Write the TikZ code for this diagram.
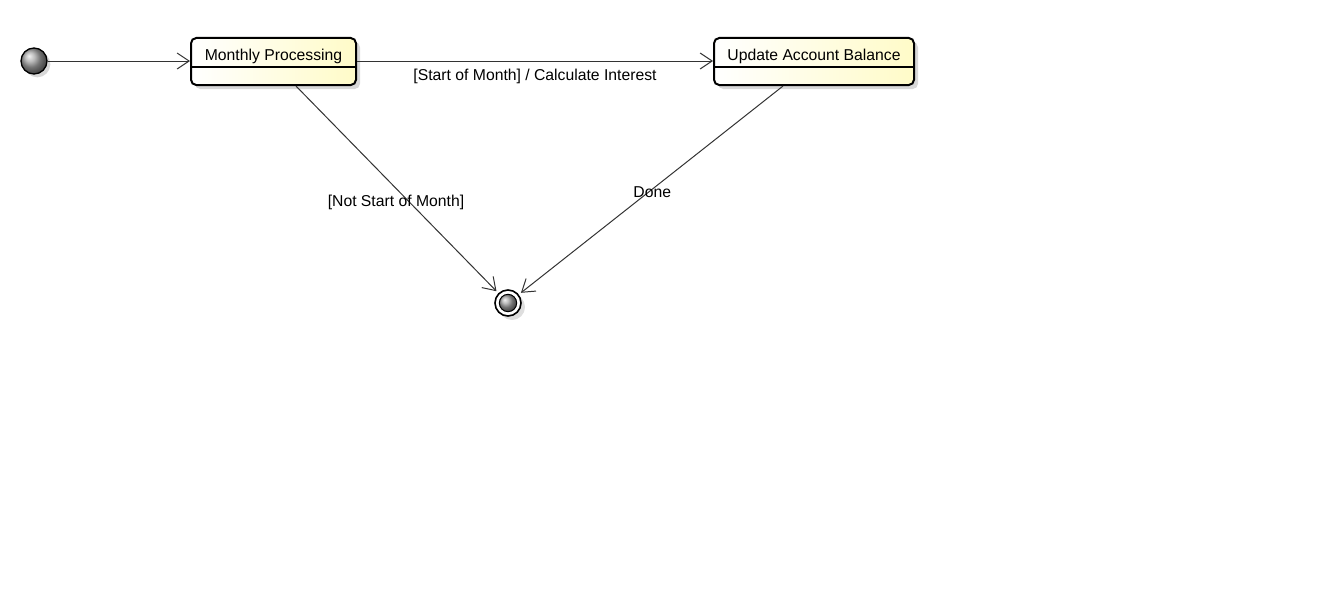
\documentclass[tikz,border=0pt]{standalone}
\usepackage{fontspec}
\setmainfont{Liberation Sans}
\usepackage{xcolor}
\usepackage{tikz}
\usetikzlibrary{arrows.meta,positioning,calc,shadows}
\definecolor{StateYellow}{HTML}{FFFBC8}
\definecolor{StateShadow}{HTML}{C8C8C8}

\begin{document}
\begin{tikzpicture}[
  x=0.75pt, y=-0.75pt,
  font=\fontsize{11.8}{13}\selectfont,
  state/.style={draw, line width=1.5pt, rounded corners=4pt, inner xsep=0pt, inner ysep=0pt,
    text height=16.9pt, text depth=18.4pt, left color=white, right color=StateYellow,
    drop shadow={shadow xshift=3pt, shadow yshift=-3pt, fill=StateShadow, opacity=.7}},
  startdot/.style={circle, draw, line width=1pt, minimum size=19.5pt, inner sep=0pt,
    ball color=gray!70,
    drop shadow={shadow xshift=2.5pt, shadow yshift=-2.5pt, fill=StateShadow, opacity=.7}},
  enddot/.style={circle, draw, line width=1.2pt, minimum size=19.5pt, inner sep=0pt, fill=white,
    drop shadow={shadow xshift=3pt, shadow yshift=-3pt, fill=StateShadow, opacity=.6}},
  trans/.style={-{Straight Barb[length=9pt,width=12pt]}, line width=0.75pt, draw=black!80}
]
\useasboundingbox (0,0) rectangle (1324,608);

\node[startdot] (init) at (34,61) {};
\node[state, minimum width=123.75pt] (monthly) at (273.5,61.5) {Monthly Processing};
\node[state, minimum width=150pt] (update) at (814,61.5) {Update Account Balance};
\node[enddot] (final) at (508,303) {};
\node[circle, draw, line width=0.75pt, minimum size=13pt, inner sep=0pt, ball color=gray!70] (finalcore) at (final) {};

% compartment lines
\draw[line width=1pt] (monthly.west |- 0,67) -- (monthly.east |- 0,67);
\draw[line width=1pt] (update.west |- 0,67) -- (update.east |- 0,67);

\draw[trans] (init) -- (monthly.west |- init);
\draw[trans] (monthly.east |- init) -- node[below=2.5pt] {[Start of Month] / Calculate Interest} (update.west |- init);
\draw[trans, shorten >=2pt] (monthly.south -| 296,0) -- node[pos=.56, xshift=-10pt] {[Not Start of Month]} (final);
\draw[trans, shorten >=2pt] (update.south -| 783,0) -- node[pos=.51, xshift=3pt] {Done} (final);
\end{tikzpicture}
\end{document}
